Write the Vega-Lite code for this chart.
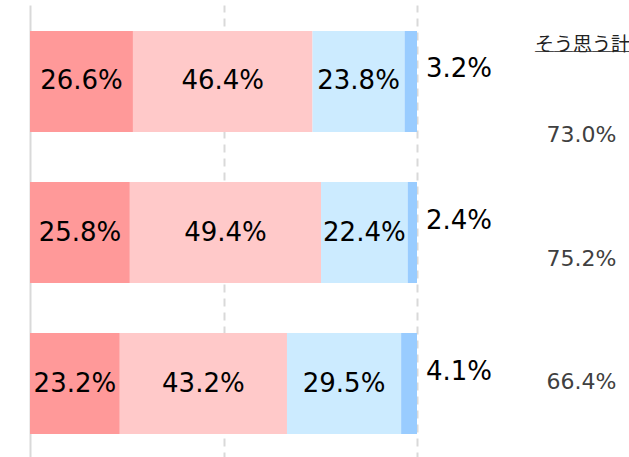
{
  "$schema": "https://vega.github.io/schema/vega-lite/v6.json",
  "autosize": {"type": "pad"},
  "padding": {"left": 30, "top": 5, "right": 0, "bottom": 0},
  "bounds": "flush",
  "spacing": 115,
  "config": {"view": {"stroke": null}, "font": "DejaVu Sans"},
  "datasets": {
    "segs": [
      {"group": "全体", "seg": 1, "value": 26.6},
      {"group": "全体", "seg": 2, "value": 46.4},
      {"group": "全体", "seg": 3, "value": 23.8},
      {"group": "全体", "seg": 4, "value": 3.2},
      {"group": "男性", "seg": 1, "value": 25.8},
      {"group": "男性", "seg": 2, "value": 49.4},
      {"group": "男性", "seg": 3, "value": 22.4},
      {"group": "男性", "seg": 4, "value": 2.4},
      {"group": "女性", "seg": 1, "value": 23.2},
      {"group": "女性", "seg": 2, "value": 43.2},
      {"group": "女性", "seg": 3, "value": 29.5},
      {"group": "女性", "seg": 4, "value": 4.1}
    ],
    "totals": [
      {"group": "全体", "total": 73.0},
      {"group": "男性", "total": 75.2},
      {"group": "女性", "total": 66.4}
    ]
  },
  "hconcat": [
    {
      "width": 387,
      "height": 455,
      "data": {"name": "segs"},
      "transform": [
        {"stack": "value", "groupby": ["group"], "sort": [{"field": "seg", "order": "ascending"}], "as": ["x0", "x1"]},
        {"calculate": "(datum.x0 + datum.x1) / 2", "as": "mid"},
        {"calculate": "format(datum.value, '.1f') + '%'", "as": "lbl"}
      ],
      "encoding": {
        "y": {
          "field": "group", "type": "nominal", "sort": ["全体", "男性", "女性"],
          "scale": {"paddingInner": 0.331, "paddingOuter": 0.172},
          "axis": {"labels": false, "ticks": false, "title": null, "domainColor": "#d9d9d9", "domainWidth": 2}
        }
      },
      "layer": [
        {
          "mark": {"type": "bar"},
          "encoding": {
            "x": {"field": "x0", "type": "quantitative", "scale": {"domain": [0, 100], "nice": false},
              "axis": {"values": [50, 100], "labels": false, "ticks": false, "domain": false, "title": null,
                "gridColor": "#d9d9d9", "gridWidth": 2, "gridDash": [8, 6]}},
            "x2": {"field": "x1"},
            "color": {"field": "seg", "type": "nominal",
              "scale": {"domain": [1, 2, 3, 4], "range": ["#FF9999", "#FFC9C9", "#CCEBFF", "#99CCFF"]},
              "legend": null}
          }
        },
        {
          "transform": [{"filter": "datum.seg < 4"}],
          "mark": {"type": "text", "fontSize": 26, "color": "#000000", "baseline": "middle", "align": "center"},
          "encoding": {
            "x": {"field": "mid", "type": "quantitative"},
            "text": {"field": "lbl"}
          }
        },
        {
          "transform": [{"filter": "datum.seg == 4"}],
          "mark": {"type": "text", "fontSize": 26, "color": "#000000", "baseline": "middle", "align": "left", "dx": 9, "dy": -12},
          "encoding": {
            "x": {"field": "x1", "type": "quantitative"},
            "text": {"field": "lbl"}
          }
        }
      ]
    },
    {
      "width": 95,
      "height": 455,
      "title": {"text": "そう思う計", "subtitle": "＿＿＿＿＿", "orient": "top", "anchor": "middle", "offset": -60, "dx": 3, "baseline": "middle", "fontSize": 19, "fontWeight": "normal", "color": "#222222", "font": "Noto Sans CJK JP", "subtitleFont": "Noto Sans CJK JP", "subtitleFontSize": 19, "subtitleColor": "#222222", "subtitlePadding": -20},
      "data": {"name": "totals"},
      "transform": [{"calculate": "format(datum.total, '.1f') + '%'", "as": "lbl"}],
      "mark": {"type": "text", "fontSize": 22, "color": "#404040", "baseline": "middle", "align": "center", "dx": 2, "dy": 26},
      "encoding": {
        "y": {"field": "group", "type": "nominal", "sort": ["全体", "男性", "女性"], "scale": {"type": "point", "padding": 0.835}, "axis": null},
        "text": {"field": "lbl"}
      }
    }
  ]
}
